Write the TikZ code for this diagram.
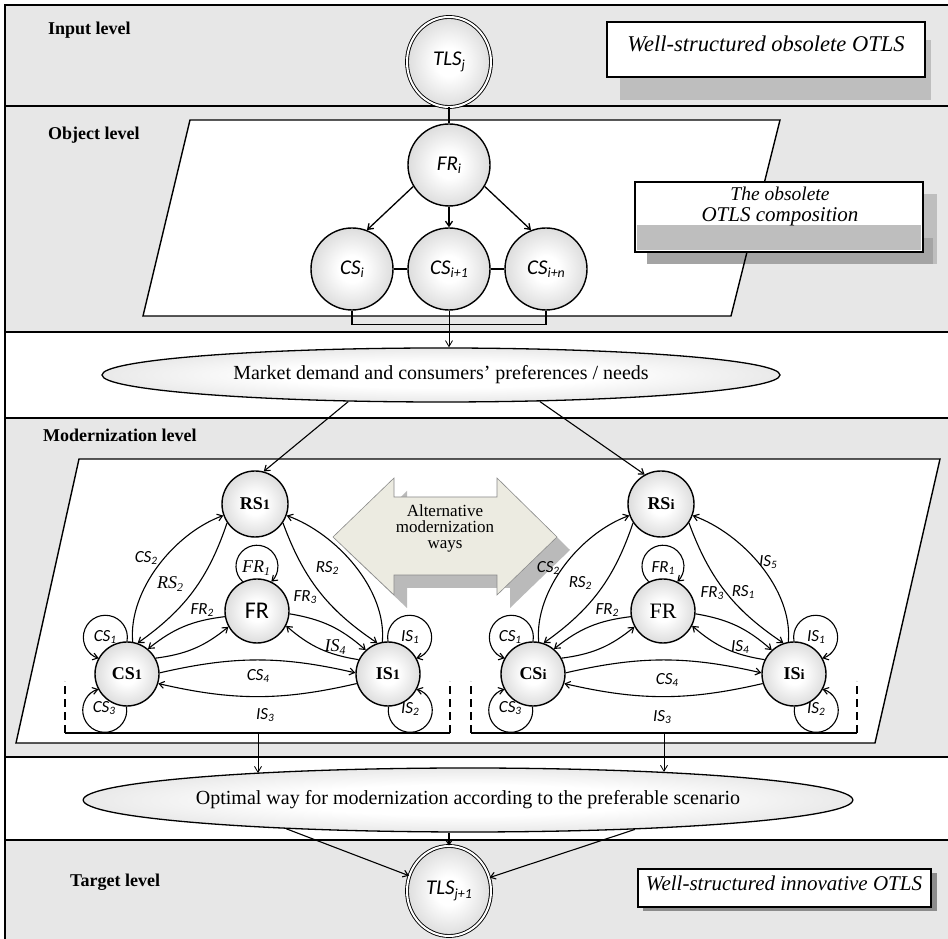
\documentclass[tikz,border=0pt]{standalone}
\usepackage{graphicx}
\usepackage{fontspec}
\setmainfont{Liberation Serif}
\newfontfamily\calfont{Carlito}
\usetikzlibrary{arrows.meta,shapes.geometric,calc}

\definecolor{bandgray}{HTML}{E7E7E7}
\definecolor{shadowlight}{HTML}{BEBEBE}
\definecolor{shadowdark}{HTML}{A4A4A4}
\definecolor{wayfill}{HTML}{ECEBE1}
\definecolor{wayedge}{HTML}{8A8A8A}
\definecolor{wayshadow}{HTML}{BABABA}

\pgfdeclareradialshading{ballshade}{\pgfpoint{0bp}{0bp}}{%
  color(0bp)=(white); color(8bp)=(white); color(50bp)=(black!33)}
\pgfdeclareradialshading{ovalshade}{\pgfpoint{0bp}{0bp}}{%
  color(0bp)=(white); color(12bp)=(white); color(50bp)=(black!25)}

\newcommand\fsz[1]{\fontsize{#1}{#1}\selectfont}
\newcommand\subdn[1]{\raisebox{-0.32ex}{\scalebox{0.66}{#1}}}
\newcommand\subon[1]{\scalebox{0.8}{#1}}

\tikzset{
  frameline/.style={line width=1.8pt},
  plane/.style={line width=1.4pt},
  ball/.style={circle, draw, line width=1.4pt, shading=ballshade, shade, inner sep=0pt},
  objball/.style={ball, minimum size=82pt, font=\calfont\itshape\fsz{21}},
  modball/.style={ball, minimum size=64pt, font=\bfseries\fsz{18}},
  tls/.style={ellipse, draw, double, double distance=2pt, line width=0.9pt,
    shading=ballshade, shade, minimum width=84pt, minimum height=90pt,
    inner sep=0pt, font=\calfont\itshape\fsz{21}},
  oval/.style={ellipse, draw, line width=1.3pt, shading=ovalshade, shade,
    inner sep=0pt, font=\fsz{20}},
  arr/.style={-{Straight Barb[length=5pt,width=7pt]}, line width=1.1pt},
  thinarr/.style={-{Straight Barb[length=6pt,width=7pt]}, line width=0.8pt},
  lev/.style={anchor=west, font=\bfseries\fsz{18}, inner sep=0pt},
  elab/.style={font=\calfont\itshape\fsz{17}, inner sep=0pt},
  elabs/.style={font=\itshape\fsz{18}, inner sep=0pt},
  note/.style={draw, line width=1.4pt, fill=white},
  notetext/.style={font=\itshape\fsz{21}, inner sep=0pt, align=center},
  brk/.style={line width=1.3pt},
  brkdash/.style={line width=1.3pt, dash pattern=on 8pt off 5pt},
}

% round self-loop on a 32pt node: #1 node, #2 direction of the loop;
% ccw puts the arrow on the counter-clockwise side, cw on the other
\newcommand\loopccw[2]{%
  \pgfmathtruncatemacro\lpa{#2-31}\pgfmathsetmacro\lpb{#2-131.5}\pgfmathsetmacro\lpc{#2+131.5}%
  \draw[arr] (#1.\lpa) arc[start angle=\lpb, end angle=\lpc, radius=22];}
\newcommand\loopcw[2]{%
  \pgfmathtruncatemacro\lpa{#2+31}\pgfmathsetmacro\lpb{#2+131.5}\pgfmathsetmacro\lpc{#2-131.5}%
  \draw[arr] (#1.\lpa) arc[start angle=\lpb, end angle=\lpc, radius=22];}

% edges and self-loops of one modernization graph; #1 is the name prefix
\newcommand\modedges[1]{%
  \draw[arr] (#1CS.80)  to[out=95,in=200,looseness=0.85] (#1RS.200);
  \draw[arr] (#1RS.214) to[bend left=18]  (#1CS.71);
  \draw[arr] (#1IS.100) to[out=85,in=-20,looseness=0.85] (#1RS.-20);
  \draw[arr] (#1RS.326) to[bend right=18] (#1IS.109);
  \draw[arr] (#1FR.190) to[bend right=16] (#1CS.50);
  \draw[arr] (#1CS.29)  to[bend right=16] (#1FR.209);
  \draw[arr] (#1FR.-5)  to[bend left=16]  (#1IS.133);
  \draw[arr] (#1IS.154) to[bend left=16]  (#1FR.-27);
  \draw[arr] (#1CS.2)   to[bend left=13]  (#1IS.178);
  \draw[arr] (#1IS.197) to[bend left=13]  (#1CS.-17);
  \loopccw{#1CS}{121}
  \loopcw{#1CS}{238}
  \loopcw{#1IS}{59}
  \loopccw{#1IS}{302}
  \draw[arr] (#1FR.116) arc[start angle=227, end angle=-47, radius=21];
}

\newcommand\waypath{(333,402) -- (394,461) -- (394,442) -- (497,442) -- (497,461)
  -- (557,402) -- (497,344) -- (497,364) -- (394,364) -- (394,344) -- cycle}

\begin{document}
\begin{tikzpicture}[x=1pt,y=1pt]
\useasboundingbox (0,0) rectangle (948,939);

% level bands
\begin{scope}
  \clip (0,0) rectangle (948,939);
  \fill[bandgray] (5,833) rectangle (960,934);
  \fill[bandgray] (5,607) rectangle (960,833);
  \fill[white]    (5,521) rectangle (960,607);
  \fill[bandgray] (5,182) rectangle (960,521);
  \fill[white]    (5,99)  rectangle (960,182);
  \fill[bandgray] (5,-5)  rectangle (960,99);
  \draw[frameline] (960,934) -- (5,934) -- (5,-5);
  \foreach \yy in {833,607,521,182,99} \draw[frameline] (5,\yy) -- (960,\yy);
\end{scope}

% level titles
\node[lev] (tin)  at (48,909) {Input level};
\node[lev] (tob)  at (48,804) {Object level};
\node[lev] (tmo)  at (43,504) {Modernization level};
\node[lev] (tta)  at (70,57)  {Target level};

% object level plane and note
\fill[white] (190,819) -- (780,819) -- (731,623) -- (143,623) -- cycle;
\fill[shadowlight] (647,675) rectangle (937,745);
\fill[shadowdark]  (647,675) rectangle (933,701);
\draw[plane] (190,819) -- (780,819) -- (731,623) -- (143,623) -- cycle;
\draw[note] (635,687) rectangle (923,757);
\fill[shadowlight] (637,689) rectangle (921,714);
\node[notetext] (ncomp) at (780,733)
  {\fontsize{19.5}{18}\selectfont The obsolete\\OTLS composition};

% input and target notes
\fill[shadowlight] (620,839) rectangle (931,899);
\draw[note] (607,862) rectangle (925,917);
\node[notetext, font=\itshape\fsz{22.5}] (nin) at (766,895) {Well-structured obsolete OTLS};
\fill[black!45] (643,28) rectangle (937,66);
\draw[note] (638,32) rectangle (931,70);
\node[notetext] (nta) at (784,56) {Well-structured innovative OTLS};

% modernization plane
\draw[plane, fill=white] (79,480) -- (940,480) -- (875,196) -- (16,196) -- cycle;

% alternative ways double arrow
\begin{scope}[shift={(13,-13)}]
  \fill[wayshadow] \waypath;
\end{scope}
\draw[wayedge, fill=wayfill, line width=0.6pt] \waypath;
\node[font=\fontsize{17}{16}\selectfont, align=center, inner sep=0pt] (ways)
  at (445,411) {Alternative\\modernization\\ways};

% nodes
\node[tls] (TLS) at (449,877) {TLS\subdn{j}};
\node[objball] (FRi) at (449,774) {FR\subdn{i}};
\node[objball] (CSi) at (352,670) {CS\subdn{i}};
\node[objball] (CSi1) at (449,670) {CS\subdn{i+1}};
\node[objball] (CSin) at (546,670) {CS\subdn{i+n}};
\node[oval, minimum width=678pt, minimum height=54pt] (Mkt) at (441,564)
  {Market demand and consumers’ preferences / needs};

\node[modball, minimum size=66pt] (L-RS) at (255,435) {RS\subon{1}};
\node[modball] (L-CS) at (127,265) {CS\subon{1}};
\node[modball, font=\calfont\fsz{24}] (L-FR) at (257,328) {FR};
\node[modball] (L-IS) at (388,265) {IS\subon{1}};

\begin{scope}[xshift=406pt]
  \node[modball, minimum size=66pt] (R-RS) at (255,435) {RS\subon{i}};
  \node[modball] (R-CS) at (127,265) {CS\subon{i}};
  \node[modball, font=\fsz{22}] (R-FR) at (257,328) {FR};
  \node[modball] (R-IS) at (388,265) {IS\subon{i}};
\end{scope}

\node[oval, minimum width=736pt, minimum height=64pt] (Opt) at (468,139)
  {Optimal way for modernization according to the preferable scenario};
\node[tls] (TLS1) at (449,48) {TLS\subdn{j+1}};

% object level connectors
\draw[line width=1.3pt] (TLS) -- (FRi);
\draw[arr, line width=1.3pt] (FRi.211) -- (CSi.69);
\draw[arr, line width=1.3pt] (FRi) -- (CSi1);
\draw[arr, line width=1.3pt] (FRi.-31) -- (CSin.111);
\draw[line width=1.3pt] (CSi) -- (CSi1);
\draw[line width=1.3pt] (CSi1) -- (CSin);
\draw[line width=1.3pt] (CSi.south) -- ++(0,-14) -| (CSin.south);
\draw[thinarr] (CSi1.south) -- (CSi1.south |- Mkt.north);

% demand to the two graphs
\draw[arr] (Mkt.196) -- (L-RS.75);
\draw[arr] (Mkt.-15) -- (R-RS.119);

% graph edges
\modedges{L-}
\modedges{R-}

% brackets under the graphs
\coordinate (L-tick) at (258,206);
\coordinate (R-tick) at (664,206);
\draw[brk] (65,206) -- (450,206);
\draw[brkdash] (65,206) -- (65,258);
\draw[brkdash] (450,206) -- (450,258);
\draw[brk] (471,206) -- (857,206);
\draw[brkdash] (471,206) -- (471,258);
\draw[brkdash] (857,206) -- (857,258);
\draw[thinarr] (L-tick) -- (L-tick |- Opt.173);
\draw[thinarr] (R-tick) -- (R-tick |- Opt.8);

% optimal way to target
\draw[arr] (Opt.189) -- (TLS1);
\draw[arr] (TLS1.north |- Opt.south) -- (TLS1.north);
\draw[arr] (Opt.-10) -- (TLS1);

% edge labels, left graph
\node[elab]  (L-t1)  at (146,381) {CS\subdn{2}};
\node[elabs] (L-t2)  at (170,355) {RS\subdn{2}};
\node[elab]  (L-t3)  at (202,329) {FR\subdn{2}};
\node[elabs] (L-t4)  at (256,371) {FR\subdn{1}};
\node[elab]  (L-t5)  at (327,371) {RS\subdn{2}};
\node[elab]  (L-t6)  at (305,342) {FR\subdn{3}};
\node[elabs] (L-t7)  at (335,292) {IS\subdn{4}};
\node[elab]  (L-t8)  at (105,302) {CS\subdn{1}};
\node[elab]  (L-t9)  at (104,231) {CS\subdn{3}};
\node[elab]  (L-t10) at (410,302) {IS\subdn{1}};
\node[elab]  (L-t11) at (410,230) {IS\subdn{2}};
\node[elab]  (L-t12) at (258,263) {CS\subdn{4}};
\node[elab]  (L-t13) at (265,224) {IS\subdn{3}};

% edge labels, right graph
\node[elab] (R-t1)  at (548,371) {CS\subdn{2}};
\node[elab] (R-t2)  at (580,356) {RS\subdn{2}};
\node[elab] (R-t3)  at (607,329) {FR\subdn{2}};
\node[elab] (R-t4)  at (663,371) {FR\subdn{1}};
\node[elab] (R-t5)  at (712,346) {FR\subdn{3}};
\node[elab] (R-t6)  at (743,347) {RS\subdn{1}};
\node[elab] (R-t7)  at (768,377) {IS\subdn{5}};
\node[elab] (R-t8)  at (510,302) {CS\subdn{1}};
\node[elab] (R-t9)  at (510,231) {CS\subdn{3}};
\node[elab] (R-t10) at (816,302) {IS\subdn{1}};
\node[elab] (R-t11) at (816,230) {IS\subdn{2}};
\node[elab] (R-t12) at (740,292) {IS\subdn{4}};
\node[elab] (R-t13) at (667,259) {CS\subdn{4}};
\node[elab] (R-t14) at (662,222) {IS\subdn{3}};
\end{tikzpicture}
\end{document}
